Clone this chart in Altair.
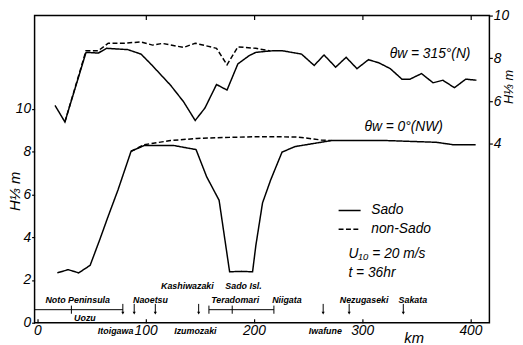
import altair as alt
import pandas as pd

# ---------------- data ----------------
# theta_w = 315 deg (N)  -> right axis units (m)
upper_sado_km = [16.4, 25.5, 45, 56.4, 63.9, 83.6, 95.8, 104.8, 123, 135,
                 145.8, 154.8, 165.5, 175.2, 185.2, 195.7, 201.8, 215, 226, 244,
                 255.7, 264.8, 275.5, 285.2, 295.2, 305.8, 315.5, 326, 336.7, 344.2,
                 354.8, 365.5, 374.5, 385.2, 395.7, 405.5]
upper_sado_h = [5.8, 5.03, 8.28, 8.25, 8.47, 8.41, 8.2, 7.74, 6.75, 5.98,
                5.1, 5.68, 6.78, 6.52, 7.74, 8.13, 8.28, 8.35, 8.36, 8.2,
                7.67, 8.16, 7.59, 8.05, 7.52, 7.94, 7.79, 7.52, 7.03, 7.03,
                7.29, 6.86, 6.98, 6.63, 7.03, 6.98]
upper_nonsado_km = [25.5, 45, 56.4, 65.5, 80.6, 95.8, 106.4, 115.5, 135.2, 145.8,
                    165.5, 175.2, 185.2, 201.8, 215]
upper_nonsado_h = [5.03, 8.36, 8.36, 8.71, 8.71, 8.77, 8.62, 8.7, 8.51, 8.71,
                   8.47, 7.7, 8.54, 8.47, 8.35]

# theta_w = 0 deg (NW) -> left axis units (m)
lower_sado_km = [18.5, 28.5, 38.2, 48.8, 57.9, 65.5, 74.5, 86.6, 98.8, 126,
                 146.6, 156.4, 167.9, 177.6, 188.2, 198.8, 201.8, 208, 215.5, 226,
                 238, 271.5, 323, 368.5, 383.6, 404.8]
lower_sado_h = [2.33, 2.48, 2.33, 2.68, 3.91, 4.98, 6.2, 8.01, 8.28, 8.28,
                8.09, 6.82, 5.72, 2.38, 2.4, 2.38, 3.6, 5.6, 6.67, 7.97,
                8.23, 8.51, 8.51, 8.43, 8.32, 8.32]
lower_nonsado_km = [86.6, 98.8, 123, 147.3, 177.6, 201.8, 240, 262, 271.5]
lower_nonsado_h = [8.01, 8.32, 8.51, 8.61, 8.66, 8.69, 8.68, 8.54, 8.51]

series_names = ["Sado", "non-Sado"]

x_ticks = [0, 100, 200, 300, 400]
top_ticks = [100, 200, 300, 400]
left_ticks = [0, 2, 4, 6, 8, 10]
right_ticks = [4, 6, 8, 10]

# annotations (km, left-axis metres)
ann_right_text = ["θw = 315°(N)", "θw = 0°(NW)"]
ann_right_km = [400, 374.5]
ann_right_h = [12.55, 9.15]
ann_left_text = ["U₁₀ = 20 m/s", "t = 36hr"]
ann_left_km = [287.3, 287.3]
ann_left_h = [3.22, 2.3]

# place names along the coast
place_names = ["Noto   Peninsula", "Naoetsu", "Kashiwazaki", "Sado Isl.", "Teradomari",
               "Niigata", "Nezugaseki", "Sakata", "Uozu", "Itoigawa", "Izumozaki", "Iwafune"]
place_km = [37.3, 104.5, 138.6, 190.5, 182.7, 230.5, 301.8, 346.8, 44, 72.3, 146, 266]
place_h = [1.06, 1.06, 1.7, 1.7, 1.06, 1.06, 1.04, 1.04, 0.23, -0.37, -0.37, -0.37]

seg_start_km = [-2.5, 158.5]
seg_end_km = [79, 218.5]
seg_h = [0.61, 0.61]
tick_km = [31.5, 158.5, 180, 218.5]
arrow_km = [79, 89.5, 109, 149, 264, 288, 338]

# ---------------- frames ----------------
def series_df(km_a, h_a, km_b, h_b):
    a = pd.DataFrame({"km": km_a, "h": h_a, "series": series_names[0]})
    b = pd.DataFrame({"km": km_b, "h": h_b, "series": series_names[1]})
    return pd.concat([b, a], ignore_index=True)

df_upper = series_df(upper_sado_km, upper_sado_h, upper_nonsado_km, upper_nonsado_h)
df_lower = series_df(lower_sado_km, lower_sado_h, lower_nonsado_km, lower_nonsado_h)

df_ann_r = pd.DataFrame({"km": ann_right_km, "h": ann_right_h, "t": ann_right_text})
df_ann_l = pd.DataFrame({"km": ann_left_km, "h": ann_left_h, "t": ann_left_text})
df_place = pd.DataFrame({"km": place_km, "h": place_h, "t": place_names})
df_seg = pd.DataFrame({"a": seg_start_km, "b": seg_end_km, "h": seg_h})
df_tick = pd.DataFrame({"km": tick_km, "h1": [0.42] * len(tick_km), "h2": [0.8] * len(tick_km)})
df_arrow = pd.DataFrame({"km": arrow_km, "h1": [0.88] * len(arrow_km),
                         "h2": [0.45] * len(arrow_km), "head": [0.45] * len(arrow_km)})

FONT = "Liberation Sans"
xscale = alt.Scale(domain=[-2.5, 417.5], nice=False, zero=False)
yleft = alt.Scale(domain=[0, 14.35], nice=False, zero=False)
yright = alt.Scale(domain=[-4.35, 10], nice=False, zero=False)
dash_scale = alt.Scale(domain=series_names, range=[[1, 0], [5, 2.5]])

legend = alt.Legend(title=None, orient="none", legendX=308, legendY=186,
                    symbolType="stroke", symbolSize=500, symbolStrokeWidth=1.5,
                    symbolStrokeColor="black", labelFont=FONT, labelFontSize=14,
                    labelFontStyle="italic", labelOffset=10, padding=0, rowPadding=0,
                    labelColor="black")

lower = alt.Chart(df_lower).mark_line(color="black", strokeWidth=1.5).encode(
    x=alt.X("km:Q", scale=xscale,
            axis=alt.Axis(orient="bottom", values=x_ticks, tickSize=4, offset=-4,
                          domain=False, grid=False, labelPadding=1, tickColor="black",
                          title="km", titleX=385, titleY=19, titleAlign="center",
                          titleBaseline="middle", titleFont=FONT, titleFontSize=15,
                          titleFontStyle="italic", titleFontWeight="normal")),
    y=alt.Y("h:Q", scale=yleft,
            axis=alt.Axis(orient="left", values=left_ticks, tickSize=3, domain=False,
                          grid=False, labelPadding=1, title="H⅓ m", titleAngle=270,
                          titleX=-20, titleY=178, titleAlign="center",
                          titleBaseline="middle", titleFont=FONT, titleFontSize=15,
                          titleFontStyle="italic", titleFontWeight="normal")),
    strokeDash=alt.StrokeDash("series:N", scale=dash_scale, legend=legend),
)

upper = alt.Chart(df_upper).mark_line(color="black", strokeWidth=1.5).encode(
    x=alt.X("km:Q", scale=xscale,
            axis=alt.Axis(orient="top", values=top_ticks, tickSize=4, offset=-4,
                          domain=False, grid=False, labels=False, title=None)),
    y=alt.Y("h:Q", scale=yright,
            axis=alt.Axis(orient="right", values=right_ticks, tickSize=3, domain=False,
                          grid=False, labelPadding=1, title="H⅓ m", titleAngle=270,
                          titleX=19, titleY=72, titleAlign="center",
                          titleBaseline="middle", titleFont=FONT, titleFontSize=13,
                          titleFontStyle="italic", titleFontWeight="normal")),
    strokeDash=alt.StrokeDash("series:N", scale=dash_scale, legend=legend),
)

def xy(chart, y="h:Q"):
    return chart.encode(x=alt.X("km:Q", scale=xscale, axis=None),
                        y=alt.Y(y, scale=yleft, axis=None))

ann_r = xy(alt.Chart(df_ann_r).mark_text(font=FONT, fontSize=14, fontStyle="italic",
                                         align="right", baseline="middle",
                                         color="black")).encode(text="t:N")
ann_l = xy(alt.Chart(df_ann_l).mark_text(font=FONT, fontSize=14, fontStyle="italic",
                                         align="left", baseline="middle",
                                         color="black")).encode(text="t:N")
places = xy(alt.Chart(df_place).mark_text(font=FONT, fontSize=9, fontStyle="italic",
                                          fontWeight="bold", align="center",
                                          baseline="middle", color="black")).encode(text="t:N")
segs = alt.Chart(df_seg).mark_rule(color="black", strokeWidth=1).encode(
    x=alt.X("a:Q", scale=xscale, axis=None), x2="b:Q",
    y=alt.Y("h:Q", scale=yleft, axis=None))
ticks = alt.Chart(df_tick).mark_rule(color="black", strokeWidth=1).encode(
    x=alt.X("km:Q", scale=xscale, axis=None),
    y=alt.Y("h1:Q", scale=yleft, axis=None), y2="h2:Q")
stems = alt.Chart(df_arrow).mark_rule(color="black", strokeWidth=1).encode(
    x=alt.X("km:Q", scale=xscale, axis=None),
    y=alt.Y("h1:Q", scale=yleft, axis=None), y2="h2:Q")
heads = alt.Chart(df_arrow).mark_point(shape="triangle-down", filled=True, size=10,
                                       color="black", opacity=1).encode(
    x=alt.X("km:Q", scale=xscale, axis=None),
    y=alt.Y("head:Q", scale=yleft, axis=None))

chart = alt.layer(lower, upper, ann_r, ann_l, places, segs, ticks, stems, heads).resolve_scale(
    y="independent"
).resolve_axis(
    x="independent", y="independent"
).properties(
    width=462, height=312,
    autosize=alt.AutoSizeParams(type="none"),
    padding={"left": 27, "top": 5, "right": 26, "bottom": 25},
    background="white",
).configure_view(
    stroke="black", strokeWidth=1.5
).configure_axis(
    labelFont=FONT, labelFontSize=14, labelFontStyle="italic", labelColor="black",
    tickColor="black", tickWidth=1.2,
)

chart.save("out.html", embed_options={"renderer": "svg", "actions": False})
